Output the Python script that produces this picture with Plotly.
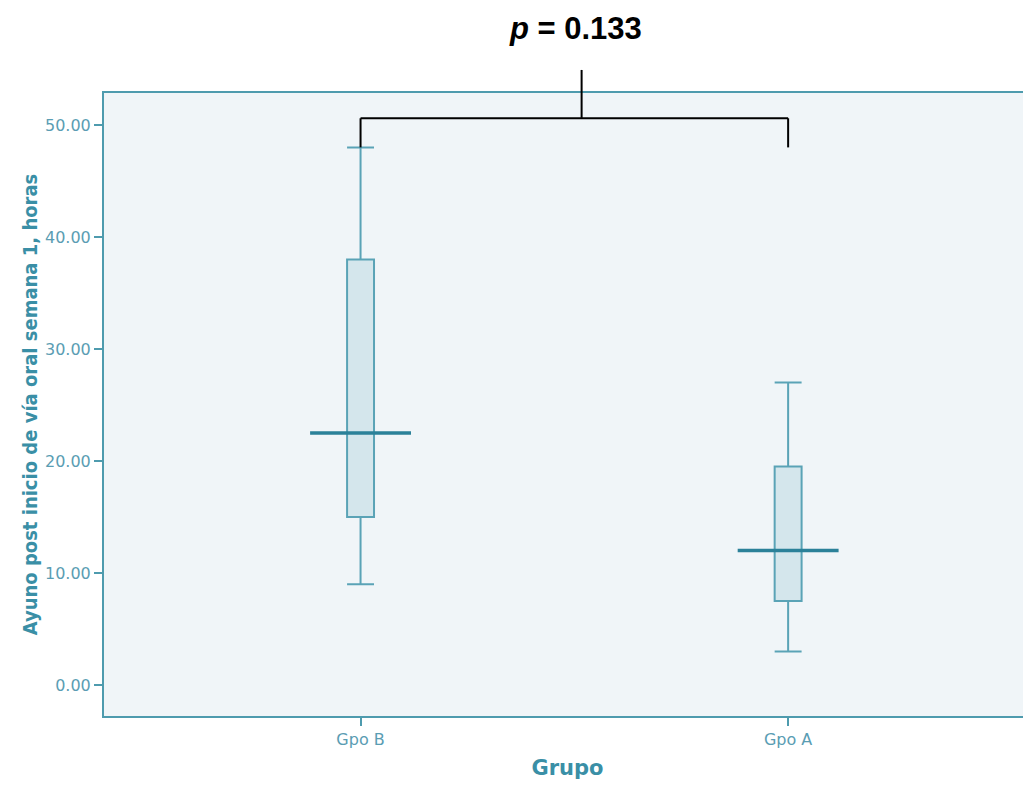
import plotly.graph_objects as go

groups = ["Gpo B", "Gpo A"]
positions = [0, 1]
q1 = [15.0, 7.5]
median = [22.5, 12.0]
q3 = [38.0, 19.5]
lower_whisker = [9.0, 3.0]
upper_whisker = [48.0, 27.0]
y_ticks = [0, 10, 20, 30, 40, 50]
p_text = "<i>p</i> = 0.133"
bracket_y = 50.6

BOX_LINE = "#5AA3B6"
BOX_FILL = "#D4E6EC"
MED = "#2B8199"
AXIS = "#4E9BAE"
TICK_TXT = "#5A9DB3"
TITLE_TXT = "#3A8FA6"
BG = "#F0F5F8"

fig = go.Figure()
for i, g in enumerate(groups):
    fig.add_trace(go.Box(
        x=[positions[i]], q1=[q1[i]], median=[median[i]], q3=[q3[i]],
        lowerfence=[lower_whisker[i]], upperfence=[upper_whisker[i]],
        name=g, width=0.063, whiskerwidth=1,
        fillcolor=BOX_FILL, line=dict(color=BOX_LINE, width=2),
        boxpoints=False, showlegend=False, hoverinfo="skip"))
    fig.add_trace(go.Scatter(
        x=[positions[i] - 0.118, positions[i] + 0.118], y=[median[i], median[i]],
        mode="lines", line=dict(color=MED, width=3.5), showlegend=False,
        hoverinfo="skip"))

# significance bracket
lw = dict(color="black", width=2)
fig.add_shape(type="line", x0=positions[0], x1=positions[1], y0=bracket_y, y1=bracket_y, line=lw)
fig.add_shape(type="line", x0=positions[0], x1=positions[0], y0=upper_whisker[0], y1=bracket_y, line=lw)
fig.add_shape(type="line", x0=positions[1], x1=positions[1], y0=upper_whisker[0], y1=bracket_y, line=lw)
fig.add_shape(type="line", xref="x", yref="paper", x0=0.517, x1=0.517, y0=0.96, y1=1.037, line=lw)
fig.add_annotation(text="<b>" + p_text + "</b>", xref="paper", yref="paper",
                   x=(575 - 103) / 928, y=1.133, showarrow=False, borderpad=0,
                   font=dict(family="Liberation Sans, Arial", size=31, color="black"))

fig.update_layout(
    width=1023, height=777,
    margin=dict(l=96, r=0, t=85, b=69),
    plot_bgcolor=BG, paper_bgcolor="white",
    xaxis=dict(range=[-0.6, 1.568], tickvals=positions, ticktext=groups,
               showgrid=False, zeroline=False, showline=True, mirror=True,
               linecolor=AXIS, linewidth=2, ticks="outside", ticklen=8,
               tickcolor=AXIS, tickwidth=2,
               tickfont=dict(family="DejaVu Sans", size=16, color=TICK_TXT),
               title=dict(text="<b>Grupo</b>", standoff=12,
                          font=dict(family="DejaVu Sans", size=21, color=TITLE_TXT))),
    yaxis=dict(range=[-2.768, 52.857], tickvals=y_ticks, tickformat=".2f",
               showgrid=False, zeroline=False, showline=True, mirror=False,
               linecolor=AXIS, linewidth=2, ticks="outside", ticklen=8,
               tickcolor=AXIS, tickwidth=2,
               tickfont=dict(family="DejaVu Sans", size=16, color=TICK_TXT),
               title=dict(text="<b>Ayuno post inicio de vía oral semana 1, horas</b>", standoff=2,
                          font=dict(family="DejaVu Sans Condensed, Liberation Sans",
                                    size=20, color=TITLE_TXT))),
)

fig.write_html("out.html")
